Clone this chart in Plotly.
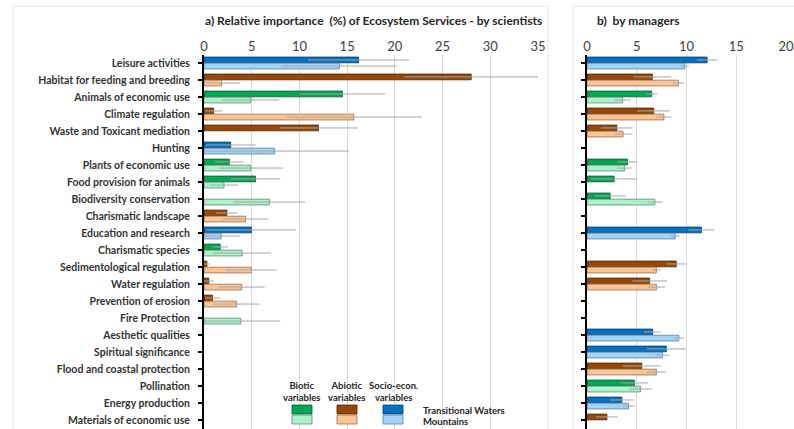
import plotly.graph_objects as go

categories = [
    "Leisure activities", "Habitat for feeding and breeding", "Animals of economic use",
    "Climate regulation", "Waste and Toxicant mediation", "Hunting", "Plants of economic use",
    "Food provision for animals", "Biodiversity conservation", "Charismatic landscape",
    "Education and research", "Charismatic species", "Sedimentological regulation",
    "Water regulation", "Prevention of erosion", "Fire Protection", "Aesthetic qualities",
    "Spiritual significance", "Flood and coastal protection", "Pollination",
    "Energy production", "Materials of economic use",
]
var_types = [
    "socio", "abiotic", "biotic", "abiotic", "abiotic", "socio", "biotic", "biotic",
    "biotic", "abiotic", "socio", "biotic", "abiotic", "abiotic", "abiotic", "biotic",
    "socio", "socio", "abiotic", "biotic", "socio", "abiotic",
]

# a) scientists
sci_tw = [16.2, 28.0, 14.5, 1.0, 12.0, 2.8, 2.65, 5.4, None, 2.4, 4.96, 1.7, 0.3, 0.5, 0.9,
          None, None, None, None, None, None, None]
sci_tw_err = [5.3, 7.0, 4.5, 0.9, 4.1, 2.6, 1.5, 2.6, 0, 1.1, 4.7, 0.8, 0.3, 0.5, 0.8,
              0, 0, 0, 0, 0, 0, 0]
sci_mt = [14.2, 1.85, 4.9, 15.7, None, 7.4, 4.9, 2.1, 6.85, 4.35, 1.8, 4.0, 4.96, 3.95, 3.4,
          3.85, None, None, None, None, None, None]
sci_mt_err = [6.0, 1.9, 3.0, 7.1, 0, 7.8, 3.4, 1.5, 3.75, 2.4, 2.0, 3.05, 2.65, 2.4, 2.45,
              4.15, 0, 0, 0, 0, 0, 0]

# b) managers
man_tw = [12.07, 6.57, 6.5, 6.7, 3.0, None, 4.07, 2.73, 2.33, None, 11.5, None, 8.97, 6.3,
          None, None, 6.6, 7.97, 5.5, 4.77, 3.5, 2.0]
man_tw_err = [1.05, 1.9, 0.57, 1.63, 1.6, 0, 1.0, 2.33, 1.57, 0, 1.3, 0, 1.0, 1.73,
              0, 0, 0.87, 1.93, 1.93, 1.4, 1.2, 1.1]
man_mt = [9.83, 9.2, 3.57, 7.73, 3.63, None, 3.77, None, 6.83, None, 8.87, None, 6.97, 6.97,
          None, None, 9.23, 7.57, 6.97, 5.37, 4.17, None]
man_mt_err = [0.4, 0.55, 0.8, 0.8, 0.93, 0, 0.73, 0, 0.75, 0, 0.47, 0, 0.43, 0.88,
              0, 0, 0.5, 0.7, 0.97, 1.13, 0.63, 0]

tw_colors = {"biotic": "#00A651", "abiotic": "#974806", "socio": "#0070C0"}
mt_colors = {"biotic": "#A9F2CA", "abiotic": "#FAC596", "socio": "#A3D2F7"}
line_tw = {"biotic": "#0B5B30", "abiotic": "#4A2503", "socio": "#0B3A66"}
line_mt = {"biotic": "#5C8C70", "abiotic": "#9A6E4A", "socio": "#5C7E9C"}

W, H = 794, 429
TOP = 55
PH = H - TOP
FONT = "Lato"


def px(x):
    return x / W


def py(y):
    return 1 - (y - TOP) / PH


fig = go.Figure()


def add_pair(tw, tw_err, mt, mt_err, xa, ya):
    fig.add_trace(go.Bar(
        y=categories, x=tw, orientation="h", xaxis=xa, yaxis=ya, name="Transitional Waters",
        marker=dict(color=[tw_colors[t] for t in var_types],
                    line=dict(color=[line_tw[t] for t in var_types], width=0.8)),
        error_x=dict(type="data", array=tw_err, color="#A6A6A6", thickness=1, width=0),
        showlegend=False, offsetgroup="tw",
    ))
    fig.add_trace(go.Bar(
        y=categories, x=mt, orientation="h", xaxis=xa, yaxis=ya, name="Mountains",
        marker=dict(color=[mt_colors[t] for t in var_types],
                    line=dict(color=[line_mt[t] for t in var_types], width=0.8)),
        error_x=dict(type="data", array=mt_err, color="#A6A6A6", thickness=1, width=0),
        showlegend=False, offsetgroup="mt",
    ))


add_pair(sci_tw, sci_tw_err, sci_mt, sci_mt_err, "x", "y")
add_pair(man_tw, man_tw_err, man_mt, man_mt_err, "x2", "y2")

# row 0 centred at y=63, rows 17px apart
yr = [(H - 63) / 17.0, -(63 - TOP) / 17.0]
xaxis_common = dict(side="top", showline=False, ticks="", showgrid=True, gridcolor="#D9D9D9",
                    gridwidth=1, zeroline=False, dtick=5, automargin=False,
                    ticklabeloverflow="allow",
                    tickfont=dict(family=FONT, size=13, color="#404040"))
yaxis_common = dict(type="category", categoryarray=categories, range=yr, showline=True,
                    linecolor="#000000", linewidth=2, ticks="outside", ticklen=4,
                    tickwidth=2, tickcolor="#000000", showgrid=False, zeroline=False,
                    automargin=False)

fig.update_layout(
    width=W, height=H,
    margin=dict(l=0, r=0, t=TOP, b=0, pad=0),
    paper_bgcolor="white", plot_bgcolor="white",
    barmode="group", bargap=0.28, bargroupgap=0.06,
    xaxis=dict(domain=[px(204), px(538)], range=[0, 35], anchor="y", **xaxis_common),
    xaxis2=dict(domain=[px(587), px(786)], range=[0, 20], anchor="y2", **xaxis_common),
    yaxis=dict(anchor="x", ticklabelstandoff=6,
               tickfont=dict(family=FONT, size=10.5, color="#333333", weight="bold"),
               **yaxis_common),
    yaxis2=dict(anchor="x2", showticklabels=False, **yaxis_common),
    font=dict(family=FONT),
)

# panel frames (light chart-area borders)
fig.add_shape(type="rect", xref="paper", yref="paper", x0=px(13), x1=px(548), y0=-0.02, y1=py(6),
              line=dict(color="#E6E6E6", width=1), layer="below")
fig.add_shape(type="rect", xref="paper", yref="paper", x0=px(573), x1=1.02, y0=-0.02, y1=py(6),
              line=dict(color="#E6E6E6", width=1), layer="below")

# titles
fig.add_annotation(text="a) Relative importance  (%) of Ecosystem Services - by scientists",
                   xref="paper", yref="paper", x=px(203), y=py(20), xanchor="left", yanchor="middle",
                   showarrow=False, font=dict(family=FONT, size=12, color="#262626", weight="bold"))
fig.add_annotation(text="b)  by managers", xref="paper", yref="paper", x=px(595), y=py(20),
                   xanchor="left", yanchor="middle", showarrow=False,
                   font=dict(family=FONT, size=12, color="#262626", weight="bold"))

# custom legend
leg_font = dict(family=FONT, size=9.5, color="#262626", weight="bold")
legend_items = [("Biotic<br>variables", "biotic", 302), ("Abiotic<br>variables", "abiotic", 347),
                ("Socio-econ.<br>variables", "socio", 393)]
for label, t, cx in legend_items:
    fig.add_annotation(text=label, xref="paper", yref="paper", x=px(cx), y=py(391),
                       xanchor="center", yanchor="middle", showarrow=False, font=leg_font)
    fig.add_shape(type="rect", xref="paper", yref="paper", x0=px(cx - 10), x1=px(cx + 10),
                  y0=py(414), y1=py(405), fillcolor=tw_colors[t], line=dict(color=line_tw[t], width=0.8))
    fig.add_shape(type="rect", xref="paper", yref="paper", x0=px(cx - 10), x1=px(cx + 10),
                  y0=py(424), y1=py(415), fillcolor=mt_colors[t], line=dict(color=line_mt[t], width=0.8))
fig.add_annotation(text="Transitional Waters", xref="paper", yref="paper", x=px(421), y=py(410),
                   xanchor="left", yanchor="middle", showarrow=False, font=leg_font)
fig.add_annotation(text="Mountains", xref="paper", yref="paper", x=px(421), y=py(421),
                   xanchor="left", yanchor="middle", showarrow=False, font=leg_font)

fig.write_html(
    "out.html",
    config={"displayModeBar": False},
    post_script="document.body.style.margin='0';document.body.style.overflow='hidden';",
)
